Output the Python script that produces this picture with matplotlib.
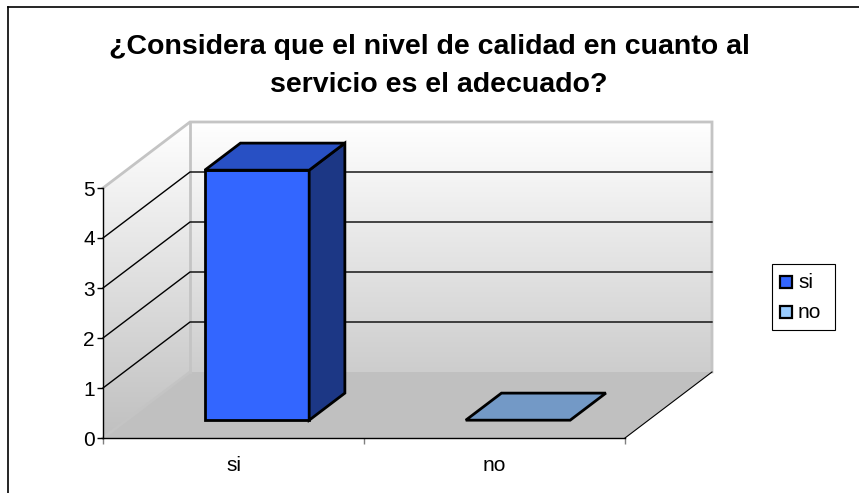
import matplotlib
matplotlib.use("Agg")
import matplotlib.pyplot as plt
import numpy as np
from matplotlib.patches import Polygon, Rectangle
from matplotlib.colors import LinearSegmentedColormap

plt.rcParams['font.family'] = ['Liberation Sans', 'DejaVu Sans']

# ---- data ----
categories = ["si", "no"]
values = [5, 0]
y_ticks = [0, 1, 2, 3, 4, 5]
title_lines = ["¿Considera que el nivel de calidad en cuanto al",
               "servicio es el adecuado?"]

# ---- style ----
front_colors = ["#3366FF", "#99CCFF"]
top_colors = ["#2850C4", "#7399C6"]
side_colors = ["#1C3785", "#5C7FA8"]
legend_colors = ["#3366FF", "#99CCFF"]

W, H = 859, 493
DX, DY = 87 / 261, 66 / 50       # depth offset in data units
YMAX = 5
bar_w = 0.4
z0, z1 = 0.27, 0.68

fig = plt.figure(figsize=(W / 100, H / 100), dpi=100)
ax = fig.add_axes([103 / W, (H - 438) / H, 609 / W, 316 / H])
ax.set_xlim(0, len(categories) + DX)
ax.set_ylim(0, YMAX + DY)


def P(x, y, z):
    return (x + z * DX, y + z * DY)


n = len(categories)
cmap = LinearSegmentedColormap.from_list("g", ["#C0C0C0", "#FFFFFF"])
grad = np.linspace(0, 1, 256).reshape(-1, 1)

# back wall
back = Polygon([P(0, 0, 1), P(n, 0, 1), P(n, YMAX, 1), P(0, YMAX, 1)],
               closed=True, facecolor="none", edgecolor="none")
ax.add_patch(back)
im = ax.imshow(grad, extent=(0, n + DX, 0, YMAX + DY), origin="lower",
               cmap=cmap, aspect="auto", zorder=0)
im.set_clip_path(back)

# side wall
side = Polygon([P(0, 0, 0), P(0, 0, 1), P(0, YMAX, 1), P(0, YMAX, 0)],
               closed=True, facecolor="none", edgecolor="none")
ax.add_patch(side)
im2 = ax.imshow(grad, extent=(0, n + DX, 0, YMAX + DY), origin="lower",
                cmap=cmap, aspect="auto", zorder=0)
im2.set_clip_path(side)

# floor
ax.add_patch(Polygon([P(0, 0, 0), P(n, 0, 0), P(n, 0, 1), P(0, 0, 1)],
                     closed=True, facecolor="#C0C0C0", edgecolor="none", zorder=1))

# gridlines
for v in y_ticks[1:-1]:
    a, b, c = P(0, v, 0), P(0, v, 1), P(n, v, 1)
    ax.plot([a[0], b[0], c[0]], [a[1], b[1], c[1]], color="black", lw=1.0,
            zorder=2, clip_on=False)

# wall borders (light gray)
edges = [[P(0, YMAX, 0), P(0, YMAX, 1), P(n, YMAX, 1), P(n, 0, 1)],
         [P(0, YMAX, 1), P(0, 0, 1)],
         [P(0, 0, 0), P(0, 0, 1)]]
for e in edges:
    xs, ys = zip(*e)
    ax.plot(xs, ys, color="#C4C4C4", lw=2, zorder=1.5, clip_on=False,
            solid_joinstyle="miter")
# floor right edge
a, b = P(n, 0, 0), P(n, 0, 1)
ax.plot([a[0], b[0]], [a[1], b[1]], color="black", lw=0.8, zorder=2, clip_on=False)

# bars
for i, v in enumerate(values):
    x0 = i + 0.5 - bar_w / 2
    x1 = i + 0.5 + bar_w / 2
    kw = dict(closed=True, edgecolor="black", lw=2, joinstyle="miter", zorder=3)
    if v > 0:
        ax.add_patch(Polygon([P(x0, 0, z0), P(x1, 0, z0), P(x1, v, z0), P(x0, v, z0)],
                             facecolor=front_colors[i], **kw))
        ax.add_patch(Polygon([P(x1, 0, z0), P(x1, 0, z1), P(x1, v, z1), P(x1, v, z0)],
                             facecolor=side_colors[i], **kw))
    ax.add_patch(Polygon([P(x0, v, z0), P(x1, v, z0), P(x1, v, z1), P(x0, v, z1)],
                         facecolor=top_colors[i], **kw))

# axes
for s in ["top", "right"]:
    ax.spines[s].set_visible(False)
ax.spines["left"].set_bounds(0, YMAX)
ax.spines["bottom"].set_bounds(0, n)
ax.spines["left"].set_linewidth(1.0)
ax.spines["bottom"].set_linewidth(1.0)
ax.spines["left"].set_zorder(4)
ax.spines["bottom"].set_zorder(4)
ax.set_yticks(y_ticks)
ax.set_yticklabels([str(t) for t in y_ticks], fontsize=15)
ax.tick_params(axis="y", length=4, width=1, pad=2)
ax.set_xticks(range(n + 1))
ax.set_xticklabels([""] * (n + 1))
ax.tick_params(axis="x", which="major", length=4, width=1, color="#808080")
ax.set_xticks([i + 0.5 for i in range(n)], minor=True)
ax.set_xticklabels(categories, minor=True, fontsize=15)
ax.tick_params(axis="x", which="minor", length=0, pad=13)

# title
fig.text(429 / W, 1 - 47 / H, title_lines[0], ha="center", va="center",
         fontsize=20.5, fontweight="bold")
fig.text(438.5 / W, 1 - 85 / H, title_lines[1], ha="center", va="center",
         fontsize=20.5, fontweight="bold")


# legend (drawn in figure pixel coordinates)
def fx(px):
    return px / W


def fy(py):
    return 1 - py / H


fig.add_artist(Rectangle((fx(772), fy(330)), (835 - 772) / W, (330 - 264) / H,
                         transform=fig.transFigure, facecolor="white",
                         edgecolor="black", lw=0.8))
leg_y = [282, 312]
for i in range(n):
    fig.add_artist(Rectangle((fx(780), fy(leg_y[i] + 6)), 12 / W, 12 / H,
                             transform=fig.transFigure,
                             facecolor=legend_colors[i], edgecolor="black", lw=1.6))
    fig.text(fx(798), fy(leg_y[i]), categories[i], ha="left", va="center",
             fontsize=15)

# chart-area border (only top and left visible)
fig.add_artist(plt.Line2D([8 / W, 1], [1 - 7 / H, 1 - 7 / H], color="black",
                          lw=1.2, transform=fig.transFigure))
fig.add_artist(plt.Line2D([8 / W, 8 / W], [1 - 7 / H, 0], color="black",
                          lw=1.2, transform=fig.transFigure))

fig.savefig("out.png", dpi=100, facecolor="white")
